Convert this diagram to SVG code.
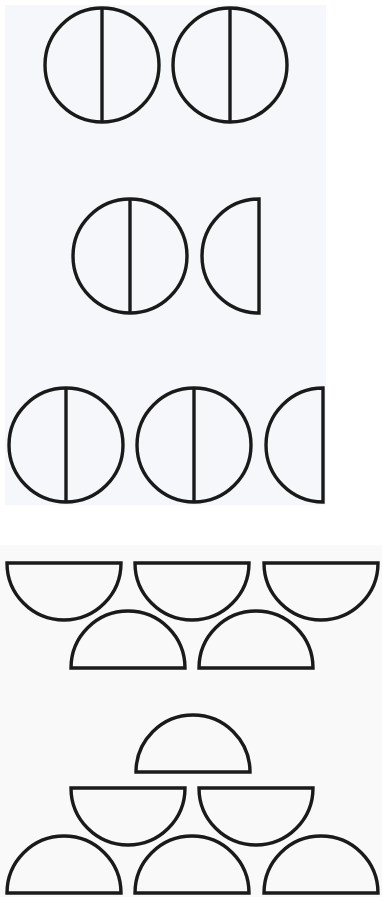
<svg xmlns="http://www.w3.org/2000/svg" width="382" height="897" viewBox="0 0 382 897">
<style>
.s{fill:none;stroke:#1a1a1a;stroke-width:3.4;stroke-linejoin:miter}
</style>
<defs>
<g id="full"><circle class="s" cx="0" cy="0" r="57"/><line class="s" x1="0" y1="-57" x2="0" y2="57"/></g>
<path id="lefthalf" class="s" d="M0,-57 A57,57 0 0 0 0,57 Z"/>
<path id="down" class="s" d="M-57,0 A57,57 0 0 0 57,0 Z"/>
<path id="up" class="s" d="M-57,0 A57,57 0 0 1 57,0 Z"/>
</defs>
<rect x="0" y="0" width="382" height="897" fill="#ffffff"/>
<rect x="5" y="5" width="321" height="500" fill="#f5f7fa"/>
<rect x="0" y="545" width="382" height="352" fill="#f9f9fa"/>
<g id="row1"><use href="#full" x="102" y="65"/><use href="#full" x="230" y="65"/></g>
<g id="row2"><use href="#full" x="130" y="256"/><use href="#lefthalf" x="259" y="256"/></g>
<g id="row3"><use href="#full" x="66" y="445"/><use href="#full" x="194" y="445"/><use href="#lefthalf" x="323" y="445"/></g>
<g id="pattern1">
<use href="#down" x="64" y="563"/><use href="#down" x="192" y="563"/><use href="#down" x="321" y="563"/>
<use href="#up" x="128" y="668"/><use href="#up" x="256" y="668"/>
</g>
<g id="pattern2">
<use href="#up" x="193" y="772"/>
<use href="#down" x="128" y="788"/><use href="#down" x="256" y="788"/>
<use href="#up" x="64" y="893"/><use href="#up" x="192" y="893"/><use href="#up" x="321" y="893"/>
</g>
</svg>
